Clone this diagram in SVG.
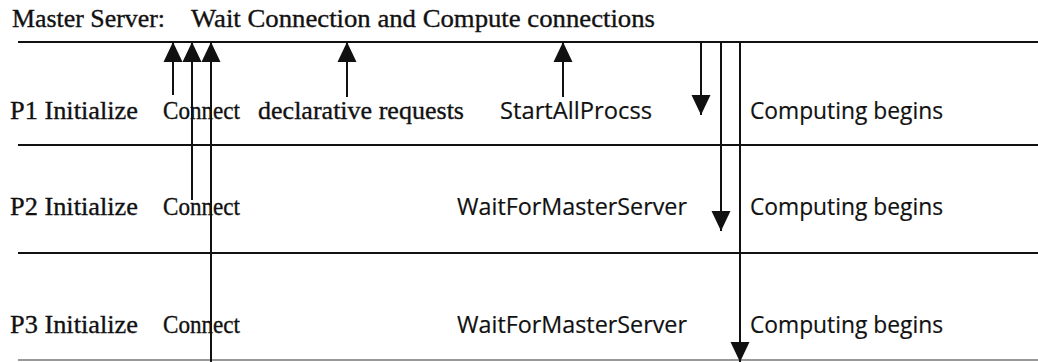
<svg xmlns="http://www.w3.org/2000/svg" width="1038" height="362" viewBox="0 0 1038 362">
  <style>
    .serif { font-family: "Liberation Serif", "Times New Roman", serif; font-size: 26px; fill: #111; stroke: #111; stroke-width: 0.35; }
    .sans { font-family: "Open Sans", "Noto Sans", sans-serif; font-size: 24px; fill: #111; stroke: #111; stroke-width: 0.2; }
    .rule { stroke: #111; stroke-width: 2; fill: none; }
    .faint { stroke: #999; stroke-width: 2; fill: none; }
    .link { stroke: #111; stroke-width: 2; fill: none; }
  </style>
  <defs>
    <marker id="head" viewBox="0 0 20 20" refX="20" refY="10" markerWidth="20" markerHeight="20" markerUnits="userSpaceOnUse" orient="auto">
      <path d="M0,0.5 L20,10 L0,19.5 Z" fill="#111"/>
    </marker>
  </defs>

  <rect width="1038" height="362" fill="#fff"/>

  <!-- master server timeline -->
  <g id="master">
    <line class="rule" x1="18" y1="42" x2="1038" y2="42"/>
    <text class="serif" x="12" y="27" textLength="153" lengthAdjust="spacingAndGlyphs">Master Server:</text>
    <text class="serif" x="191" y="27" textLength="464" lengthAdjust="spacingAndGlyphs">Wait Connection and Compute connections</text>
  </g>

  <!-- process P1 -->
  <g id="p1">
    <line class="rule" x1="18" y1="145" x2="1038" y2="145"/>
    <text class="serif" x="10" y="119" textLength="128" lengthAdjust="spacingAndGlyphs">P1 Initialize</text>
    <text class="serif" x="163" y="119" textLength="77" lengthAdjust="spacingAndGlyphs">Connect</text>
    <text class="serif" x="258" y="119" textLength="206" lengthAdjust="spacingAndGlyphs">declarative requests</text>
    <text class="sans" x="500" y="119" textLength="152" lengthAdjust="spacingAndGlyphs">StartAllProcss</text>
    <text class="sans" x="750" y="119" textLength="193" lengthAdjust="spacingAndGlyphs">Computing begins</text>
  </g>

  <!-- process P2 -->
  <g id="p2">
    <line class="rule" x1="18" y1="253" x2="1038" y2="253"/>
    <text class="serif" x="10" y="215" textLength="128" lengthAdjust="spacingAndGlyphs">P2 Initialize</text>
    <text class="serif" x="163" y="215" textLength="77" lengthAdjust="spacingAndGlyphs">Connect</text>
    <text class="sans" x="457" y="215" textLength="230" lengthAdjust="spacingAndGlyphs">WaitForMasterServer</text>
    <text class="sans" x="750" y="215" textLength="193" lengthAdjust="spacingAndGlyphs">Computing begins</text>
  </g>

  <!-- process P3 -->
  <g id="p3">
    <line class="faint" x1="18" y1="360" x2="1038" y2="360"/>
    <text class="serif" x="10" y="333" textLength="128" lengthAdjust="spacingAndGlyphs">P3 Initialize</text>
    <text class="serif" x="163" y="333" textLength="77" lengthAdjust="spacingAndGlyphs">Connect</text>
    <text class="sans" x="457" y="333" textLength="230" lengthAdjust="spacingAndGlyphs">WaitForMasterServer</text>
    <text class="sans" x="750" y="333" textLength="193" lengthAdjust="spacingAndGlyphs">Computing begins</text>
  </g>

  <!-- messages between processes and the master server -->
  <g id="connectors">
    <line class="link" x1="173" y1="95" x2="173" y2="42" marker-end="url(#head)"/>
    <line class="link" x1="192" y1="200" x2="192" y2="42" marker-end="url(#head)"/>
    <line class="link" x1="211" y1="362" x2="211" y2="42" marker-end="url(#head)"/>
    <line class="link" x1="347" y1="97" x2="347" y2="42" marker-end="url(#head)"/>
    <line class="link" x1="563" y1="97" x2="563" y2="42" marker-end="url(#head)"/>
    <line class="link" x1="701" y1="42" x2="701" y2="115" marker-end="url(#head)"/>
    <line class="link" x1="721" y1="42" x2="721" y2="231" marker-end="url(#head)"/>
    <line class="link" x1="740" y1="42" x2="740" y2="362" marker-end="url(#head)"/>
  </g>
</svg>
